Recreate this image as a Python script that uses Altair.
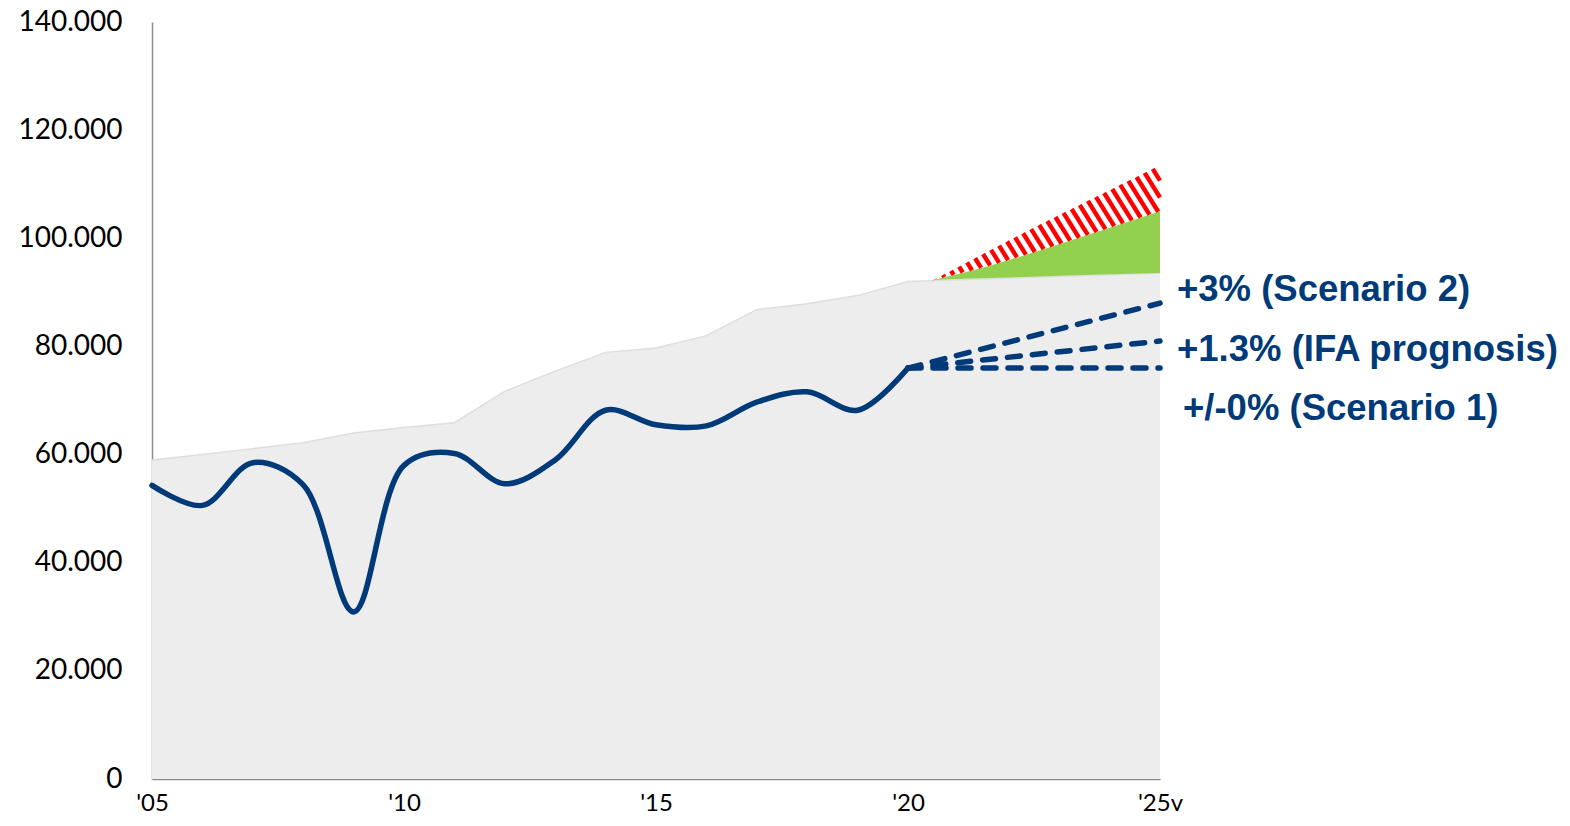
import altair as alt
import pandas as pd
import numpy as np

# ---------------- data ----------------
years = list(range(2005, 2021))
actual = [54300, 50600, 58500, 54400, 30900, 58000, 60200, 54600,
          59000, 68200, 65500, 65300, 69700, 71600, 68200, 76000]

grey_x = list(range(2005, 2021)) + [2025]
grey_top = [59000, 60000, 61100, 62200, 64000, 65000, 65900, 71700,
            75400, 78900, 79700, 82000, 86800, 87900, 89400, 92000, 93600]

proj_x = [2020, 2025]
scen1 = [76000, 76000]
ifa = [76000, 81000]
scen2 = [76000, 88000]

green_x = [2020.5, 2021.5, 2022.5, 2023.5, 2025]
green_top = [92300, 94600, 97400, 100400, 105000]
green_bottom = [92300, 92600, 92900, 93200, 93600]

red_x = [2020.5, 2022.5, 2025]
red_top = [92300, 102000, 113500]

x_ticks = [2005, 2010, 2015, 2020, 2025]
y_ticks = [0, 20000, 40000, 60000, 80000, 100000, 120000, 140000]
label_texts = ["+3% (Scenario 2)", "+1.3% (IFA prognosis)", "+/-0% (Scenario 1)"]

# ---------------- layout ----------------
W, H = 1008, 757
NAVY = "#003A78"
XMIN, XMAX, YMAX = 2005, 2025, 140000

xscale = alt.Scale(domain=[XMIN, XMAX], nice=False, zero=False)
yscale = alt.Scale(domain=[0, YMAX], nice=False)

xaxis = alt.Axis(values=x_ticks, title=None, grid=False, ticks=False, tickSize=0,
                 labelExpr="\"'\" + slice(toString(datum.value), 2) + (datum.value == 2025 ? 'v' : '')",
                 labelFont="Lato", labelFontSize=24, labelColor="#000000",
                 labelBaseline="alphabetic", labelPadding=31, labelFlush=False,
                 domainColor="#8C8C8C", domainWidth=1.5)
yaxis = alt.Axis(values=y_ticks, title=None, grid=False, ticks=False, tickSize=0,
                 labelExpr="replace(format(datum.value, ','), ',', '.')",
                 labelFont="Lato", labelFontSize=28, labelColor="#000000",
                 labelPadding=30, domainColor="#8C8C8C", domainWidth=1.5)


def X(field):
    return alt.X(field, type="quantitative", scale=xscale, axis=xaxis)


def Y(field):
    return alt.Y(field, type="quantitative", scale=yscale, axis=yaxis)


grey_df = pd.DataFrame({"x": grey_x, "v": grey_top})
act_df = pd.DataFrame({"x": years, "v": actual})
green_df = pd.DataFrame({"x": green_x, "top": green_top, "bot": green_bottom})

proj_df = pd.concat([
    pd.DataFrame({"x": proj_x, "v": scen1, "s": "s1"}),
    pd.DataFrame({"x": proj_x, "v": ifa, "s": "ifa"}),
    pd.DataFrame({"x": proj_x, "v": scen2, "s": "s2"}),
])

# ---------------- hatch stripes for the red band (derived from the arrays) ----------------
ppx = W / (XMAX - XMIN)
ppv = H / YMAX
ug = np.linspace(red_x[0], red_x[-1], 3000)
top_w = np.interp(ug, red_x, red_top) * ppv
bot_w = np.interp(ug, green_x, green_top) * ppv
u_px = (ug - XMIN) * ppx
ang = np.deg2rad(58)
sn, cs = np.sin(ang), np.cos(ang)
cvals_all = sn * u_px[:, None] + cs * np.vstack([top_w, bot_w]).T
cmin, cmax = cvals_all.min(), cvals_all.max()
spacing = 9.0
rows = []
for c in np.arange(cmin + 2, cmax, spacing):
    wl = (c - sn * u_px) / cs
    ok = (wl >= bot_w) & (wl <= top_w)
    if ok.sum() < 2:
        continue
    idx = np.where(ok)[0]
    i0, i1 = idx[0], idx[-1]
    rows.append({"x": ug[i0], "y": wl[i0] / ppv, "x2": ug[i1], "y2": wl[i1] / ppv})
hatch_df = pd.DataFrame(rows)

# ---------------- layers ----------------
grey_area = alt.Chart(grey_df).mark_area(color="#EDEDED").encode(x=X("x"), y=Y("v"))
grey_edge = alt.Chart(grey_df).mark_line(color="#DEDEDE", strokeWidth=1.5).encode(x=X("x"), y=Y("v"))

green = alt.Chart(green_df).mark_area(color="#92D050", interpolate="monotone").encode(
    x=X("x"), y=Y("top"), y2="bot")

hatch = alt.Chart(hatch_df).mark_rule(color="#FF0000", strokeWidth=4.4, strokeCap="butt").encode(
    x=X("x"), y=Y("y"), x2="x2", y2="y2")

line = alt.Chart(act_df).mark_line(color=NAVY, strokeWidth=5.5, interpolate="catmull-rom",
                                   strokeCap="round", strokeJoin="round").encode(
    x=X("x"), y=Y("v"))

dashed = alt.Chart(proj_df).mark_line(color=NAVY, strokeWidth=5.5, strokeDash=[13, 12],
                                      strokeCap="round").encode(
    x=X("x"), y=Y("v"), detail="s:N")

lab_common = dict(font="Liberation Sans", fontWeight="bold", fontSize=36.5, color=NAVY,
                  align="left", baseline="middle")
t1 = alt.Chart(pd.DataFrame({"x": [proj_x[1]], "v": [scen2[1]], "t": [label_texts[0]]})).mark_text(
    dx=17, dy=-13, **lab_common).encode(x=X("x"), y=Y("v"), text="t:N")
t2 = alt.Chart(pd.DataFrame({"x": [proj_x[1]], "v": [ifa[1]], "t": [label_texts[1]]})).mark_text(
    dx=17, dy=9, **lab_common).encode(x=X("x"), y=Y("v"), text="t:N")
t3 = alt.Chart(pd.DataFrame({"x": [proj_x[1]], "v": [scen1[1]], "t": [label_texts[2]]})).mark_text(
    dx=23, dy=41, **lab_common).encode(x=X("x"), y=Y("v"), text="t:N")

chart = alt.layer(grey_area, grey_edge, green, hatch, line, dashed, t1, t2, t3).properties(
    width=W, height=H,
    autosize=alt.AutoSizeParams(type="none"),
    padding={"left": 144, "top": 14, "right": 402, "bottom": 39},
    background="#FFFFFF",
).configure_view(stroke=None)

chart.save("out.html", embed_options={"renderer": "svg", "actions": False})
